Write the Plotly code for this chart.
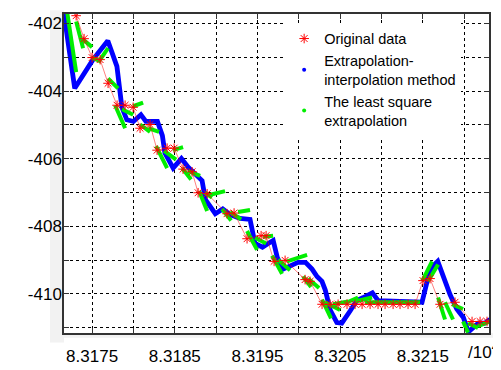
import plotly.graph_objects as go

# ---------------- data ----------------
# Original data (red asterisks)
orig_x = [8.317307, 8.317403, 8.317500, 8.317597, 8.317693, 8.317802, 8.317899, 8.317996,
          8.318080, 8.318201, 8.318286, 8.318407, 8.318492, 8.318600, 8.318709, 8.318782,
          8.318891, 8.319132, 8.319217, 8.319374, 8.319544, 8.319604, 8.319701, 8.319834,
          8.320076, 8.320136, 8.320281, 8.320378, 8.320475, 8.320583, 8.320680, 8.320765,
          8.320862, 8.320958, 8.321043, 8.321140, 8.321224, 8.321321, 8.321406, 8.321502,
          8.321587, 8.321708, 8.321889, 8.322095, 8.322192, 8.322276]
orig_y = [-401.77, -402.45, -403.01, -403.07, -403.77, -404.42, -404.42, -404.48,
          -405.10, -404.99, -405.75, -405.69, -405.69, -406.31, -406.39, -407.01,
          -407.04, -407.63, -407.61, -408.37, -408.28, -408.28, -409.04, -409.01,
          -409.58, -409.63, -410.31, -410.31, -410.31, -410.31, -410.31, -410.31,
          -410.31, -410.31, -410.31, -410.31, -410.31, -410.31, -410.31, -409.61,
          -409.55, -410.31, -410.25, -410.82, -410.82, -410.82]

# Extrapolation-interpolation method (blue)
ei_x = [8.31716, 8.31729, 8.31751, 8.31769, 8.31780, 8.31786, 8.31792, 8.31800, 8.31809,
        8.31815, 8.31829, 8.31835, 8.31838, 8.31848, 8.31858, 8.31866, 8.31877, 8.31883,
        8.31887, 8.31899, 8.31908, 8.31917, 8.31929, 8.31941, 8.31947, 8.31956, 8.31963,
        8.31969, 8.31974, 8.31981, 8.31989, 8.31999, 8.32008, 8.32016, 8.32022, 8.32028,
        8.32032, 8.32038, 8.32046, 8.32052, 8.32062, 8.32070, 8.32078, 8.32089, 8.32096,
        8.32149, 8.32156, 8.32162, 8.32168, 8.32174, 8.32183, 8.32191, 8.32199, 8.32205,
        8.32217, 8.32225, 8.32231]
ei_y = [-401.72, -403.92, -403.07, -402.51, -403.27, -404.48, -404.85, -404.90, -404.70,
        -404.90, -404.90, -405.32, -405.83, -406.28, -406.00, -406.25, -406.51, -406.65,
        -407.21, -407.63, -407.49, -407.66, -407.77, -407.80, -408.51, -408.62, -408.51,
        -408.42, -408.93, -409.27, -409.18, -409.07, -409.07, -409.27, -409.49, -409.63,
        -409.89, -410.48, -410.85, -410.87, -410.51, -410.20, -410.11, -409.97, -410.20,
        -410.25, -409.55, -409.18, -409.04, -409.46, -410.03, -410.45, -410.70, -411.13,
        -410.87, -410.87, -410.76]

# Least square extrapolation (green) short segments: start / end
ls_x0 = [8.317198, 8.317307, 8.317379, 8.317500, 8.317597, 8.317693, 8.317778, 8.317863,
         8.317996, 8.318080, 8.318177, 8.318274, 8.318371, 8.318479, 8.318588, 8.318661,
         8.318794, 8.318866, 8.318927, 8.319072, 8.319169, 8.319265, 8.319374, 8.319471,
         8.319568, 8.319677, 8.319749, 8.319858, 8.320051, 8.320112, 8.320281, 8.320317,
         8.320414, 8.320559, 8.320680, 8.320801, 8.321490, 8.321563, 8.321684, 8.321768,
         8.321853, 8.321986, 8.322047, 8.322167]
ls_y0 = [-401.66, -401.94, -402.45, -403.01, -403.07, -403.63, -404.42, -404.54,
         -404.45, -404.99, -405.10, -405.63, -405.77, -405.75, -406.28, -406.37,
         -406.96, -407.01, -407.07, -407.49, -407.58, -407.58, -408.14, -408.34,
         -408.31, -408.87, -408.99, -409.04, -409.49, -409.55, -410.17, -410.25,
         -410.31, -410.28, -410.23, -410.25, -409.63, -409.63, -410.11, -410.25,
         -410.31, -410.82, -410.87, -410.96]
ls_x1 = [8.317307, 8.317391, 8.317500, 8.317609, 8.317693, 8.317814, 8.317899, 8.317996,
         8.318117, 8.318201, 8.318310, 8.318407, 8.318516, 8.318600, 8.318697, 8.318806,
         8.318891, 8.318951, 8.319108, 8.319181, 8.319302, 8.319410, 8.319495, 8.319604,
         8.319689, 8.319797, 8.319894, 8.320100, 8.320148, 8.320245, 8.320390, 8.320499,
         8.320596, 8.320716, 8.320886, 8.321466, 8.321611, 8.321684, 8.321768, 8.321865,
         8.321986, 8.322047, 8.322167, 8.322313]
ls_y1 = [-403.44, -402.73, -402.70, -403.13, -402.73, -403.92, -405.10, -404.70,
         -404.34, -405.21, -405.21, -406.28, -406.03, -405.66, -406.62, -406.51,
         -407.55, -407.15, -406.96, -407.83, -407.80, -407.52, -408.70, -408.51,
         -408.28, -409.41, -409.30, -408.85, -409.80, -409.83, -410.73, -410.48,
         -410.23, -410.11, -410.11, -410.25, -409.04, -409.13, -410.76, -410.76,
         -410.45, -411.15, -411.01, -410.82]

x_ticks = [8.3175, 8.3185, 8.3195, 8.3205, 8.3215]
x_ticktext = ["8.3175", "8.3185", "8.3195", "8.3205", "8.3215"]
y_ticks = [-402, -404, -406, -408, -410]
y_ticktext = ["-402", "-404", "-406", "-408", "-410"]

legend_names = ["Original data", "Extrapolation-<br>interpolation method",
                "The least square<br>extrapolation"]

# ---------------- figure ----------------
seg_x, seg_y = [], []
for a, b, c, d in zip(ls_x0, ls_y0, ls_x1, ls_y1):
    seg_x += [a, c, None]
    seg_y += [b, d, None]

fig = go.Figure()
fig.add_trace(go.Scatter(x=ei_x, y=ei_y, mode="lines",
                         line=dict(color="#0000ff", width=4.8), showlegend=False))
fig.add_trace(go.Scatter(x=seg_x, y=seg_y, mode="lines",
                         line=dict(color="#00ee00", width=4), showlegend=False))
fig.add_trace(go.Scatter(x=orig_x, y=orig_y, mode="lines+markers",
                         line=dict(color="rgba(255,0,0,0.5)", width=1),
                         marker=dict(symbol="asterisk-open", size=8, color="red",
                                     line=dict(color="rgba(255,0,0,0.75)", width=1)),
                         showlegend=False))

# legend entries
fig.add_trace(go.Scatter(x=[None], y=[None], mode="markers", name=legend_names[0],
                         marker=dict(symbol="asterisk-open", size=8, color="red",
                                     line=dict(color="red", width=1))))
fig.add_trace(go.Scatter(x=[None], y=[None], mode="markers", name=legend_names[1],
                         marker=dict(symbol="circle", size=4, color="#0000ff")))
fig.add_trace(go.Scatter(x=[None], y=[None], mode="markers", name=legend_names[2],
                         marker=dict(symbol="circle", size=4, color="#00ee00")))

grid = dict(showgrid=True, gridcolor="black", griddash="3px,3px", gridwidth=1)
axis_common = dict(showline=True, linecolor="#333333", linewidth=1.5, mirror="allticks",
                   ticks="inside", ticklen=5, tickcolor="#333333", zeroline=False,
                   tickfont=dict(family="Liberation Sans, Arial", size=17, color="black"),
                   **grid)

fig.update_xaxes(range=[8.31716, 8.3223], tickvals=x_ticks, ticktext=x_ticktext,
                 minor=dict(dtick=0.0005, tick0=8.3175, showgrid=True, gridcolor="black",
                            griddash="3px,3px", ticks="inside", ticklen=5,
                            tickcolor="#333333"),
                 ticklabelstandoff=7,
                 **axis_common)
fig.update_yaxes(range=[-411.16, -401.72], tickvals=y_ticks, ticktext=y_ticktext,
                 minor=dict(dtick=1, tick0=-402, showgrid=True, gridcolor="black",
                            griddash="3px,3px", ticks="inside", ticklen=5,
                            tickcolor="#333333"),
                 ticklabelstandoff=-3,
                 **axis_common)

# light grey frame bands around the axes (left and bottom)
fig.add_shape(type="rect", xref="paper", yref="paper", x0=-0.033, x1=0,
              y0=-0.03, y1=1.012, fillcolor="#f2f2f2", line=dict(width=0), layer="below")
fig.add_shape(type="rect", xref="paper", yref="paper", x0=0, x1=1.028,
              y0=-0.015, y1=0, fillcolor="#f2f2f2", line=dict(width=0), layer="below")

fig.add_annotation(text="/10<sup>4</sup>", xref="paper", yref="paper", x=1.028, y=-0.057,
                   xanchor="right", yanchor="middle", showarrow=False,
                   font=dict(family="Liberation Sans, Arial", size=17, color="black"))

# the page body adds an 8 px margin, so the figure is 8 px smaller than the window
fig.update_layout(
    width=493, height=362,
    margin=dict(l=56, r=12, t=4, b=23),
    paper_bgcolor="white", plot_bgcolor="white",
    font=dict(family="Liberation Sans, Arial", color="black"),
    legend=dict(x=0.518, y=0.973, xanchor="left", yanchor="top", bgcolor="white",
                borderwidth=0, font=dict(family="Liberation Sans, Arial", size=14.5)),
)

fig.write_html("out.html")
